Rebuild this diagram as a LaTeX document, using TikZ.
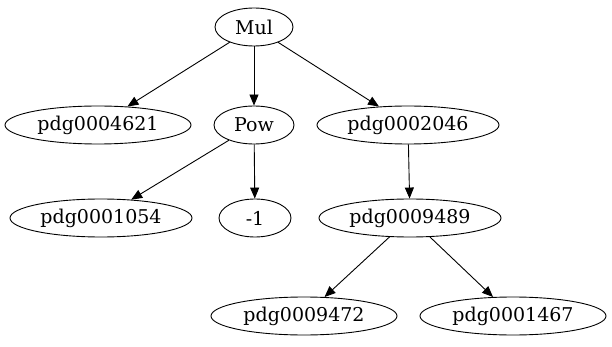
\documentclass[tikz,border=0pt]{standalone}
\usepackage{fontspec}
\setmainfont{DejaVu Serif}
\usetikzlibrary{shapes.geometric,arrows.meta}
\tikzset{
  tnode/.style={draw, ellipse, line width=0.9pt, inner sep=0pt, minimum height=38pt, font=\fontsize{19}{21}\selectfont},
  tedge/.style={line width=0.9pt, -{Triangle[length=11pt,width=9pt]}}
}
\begin{document}
\begin{tikzpicture}[x=1pt,y=-1pt]
    \useasboundingbox (0,0) rectangle (612,347);
    % top level
    \node[tnode, minimum width=78pt] (mul) at (254,27) {Mul};
    % second level
    \node[tnode, minimum width=186pt] (p4621) at (98,125) {pdg0004621};
    \node[tnode, minimum width=80pt] (pow) at (254,125) {Pow};
    \node[tnode, minimum width=182pt] (p2046) at (408,125) {pdg0002046};
    % third level
    \node[tnode, minimum width=182pt] (p1054) at (101,218) {pdg0001054};
    \node[tnode, minimum width=72pt] (m1) at (255,218) {-1};
    \node[tnode, minimum width=182pt] (p9489) at (410,218) {pdg0009489};
    % bottom level
    \node[tnode, minimum width=186pt] (p9472) at (304,316) {pdg0009472};
    \node[tnode, minimum width=186pt] (p1467) at (513,316) {pdg0001467};
    % edges
    \draw[tedge] (mul) -- (p4621);
    \draw[tedge] (mul) -- (pow);
    \draw[tedge] (mul) -- (p2046);
    \draw[tedge] (pow) -- (p1054);
    \draw[tedge] (pow) -- (m1);
    \draw[tedge] (p2046) -- (p9489);
    \draw[tedge] (p9489) -- (p9472);
    \draw[tedge] (p9489) -- (p1467);
\end{tikzpicture}
\end{document}
